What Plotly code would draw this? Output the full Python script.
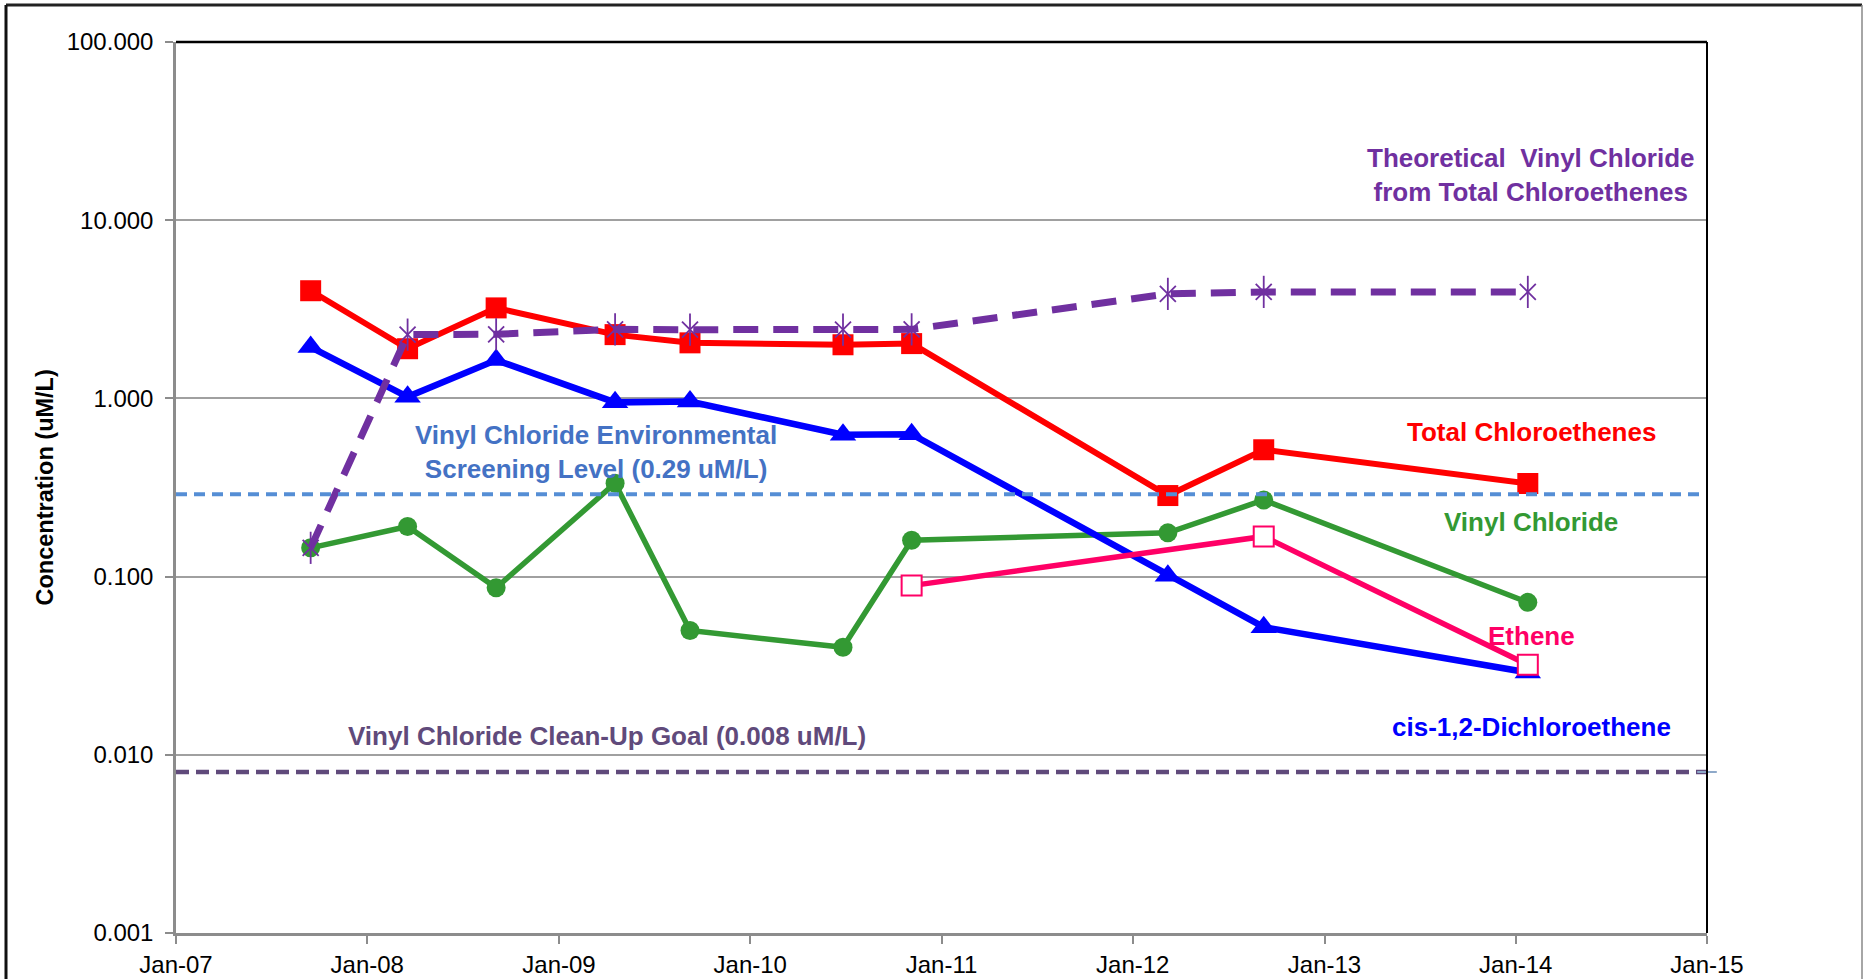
import plotly.graph_objects as go

# Sampling dates (one per monitoring event)
dates = ["2007-09-15", "2008-03-18", "2008-09-03", "2009-04-18", "2009-09-08",
         "2010-06-27", "2010-11-05", "2012-03-08", "2012-09-07", "2014-01-24"]

# Concentrations in uM/L
total_chloroethenes = [4.02, 1.90, 3.22, 2.28, 2.05, 2.00, 2.03, 0.285, 0.515, 0.333]
cis_dce = [1.94, 1.02, 1.64, 0.95, 0.96, 0.625, 0.63, 0.101, 0.052, 0.029]
vinyl_chloride = [0.145, 0.191, 0.0865, 0.334, 0.0498, 0.0401, 0.160, 0.176, 0.269, 0.0717]
theoretical_vc = [0.145, 2.28, 2.29, 2.44, 2.43, 2.43, 2.44, 3.86, 3.96, 3.96]

ethene_dates = ["2010-11-05", "2012-09-07", "2014-01-24"]
ethene = [0.089, 0.168, 0.032]

# Regulatory reference levels
screening_level = 0.29
cleanup_goal = 0.008
ref_dates = ["2007-01-01", "2015-01-01"]

y_ticks = [0.001, 0.01, 0.1, 1, 10, 100]
y_tick_labels = ["0.001", "0.010", "0.100", "1.000", "10.000", "100.000"]

FONT = "Arial, Liberation Sans, sans-serif"
RED, BLUE, GREEN, PINK, PURPLE = "#FF0000", "#0000FF", "#339933", "#FF0066", "#7030A0"
SCREEN_LINE, SCREEN_TEXT, GOAL = "#558ED5", "#4472C4", "#604A7B"

fig = go.Figure()

fig.add_trace(go.Scatter(x=dates, y=vinyl_chloride, mode="lines+markers",
                         line=dict(color=GREEN, width=5.5),
                         marker=dict(symbol="circle", size=19, color=GREEN)))
fig.add_trace(go.Scatter(x=dates, y=cis_dce, mode="lines+markers",
                         line=dict(color=BLUE, width=6.5),
                         marker=dict(symbol="triangle-up", size=23, color=BLUE)))
fig.add_trace(go.Scatter(x=dates, y=total_chloroethenes, mode="lines+markers",
                         line=dict(color=RED, width=6),
                         marker=dict(symbol="square", size=21, color=RED)))
fig.add_trace(go.Scatter(x=ethene_dates, y=ethene, mode="lines+markers",
                         line=dict(color=PINK, width=5.5),
                         marker=dict(symbol="square", size=20, color="white",
                                     line=dict(color=PINK, width=2))))
# Theoretical vinyl chloride: dashed line with star markers (X plus vertical bar)
fig.add_trace(go.Scatter(x=dates, y=theoretical_vc, mode="lines+markers",
                         line=dict(color=PURPLE, width=7, dash="25px,15px"),
                         marker=dict(symbol="x-thin-open", size=16, color=PURPLE,
                                     line=dict(color=PURPLE, width=1.8))))
fig.add_trace(go.Scatter(x=dates, y=theoretical_vc, mode="markers",
                         marker=dict(symbol="line-ns-open", size=23, color=PURPLE,
                                     line=dict(color=PURPLE, width=1.8))))
# Screening level and clean-up goal
fig.add_trace(go.Scatter(x=ref_dates, y=[screening_level] * 2, mode="lines",
                         line=dict(color=SCREEN_LINE, width=4, dash="11px,7px")))
fig.add_trace(go.Scatter(x=ref_dates, y=[cleanup_goal] * 2, mode="lines",
                         line=dict(color=GOAL, width=4.5, dash="13px,7px")))
fig.add_trace(go.Scatter(x=ref_dates[-1:], y=[cleanup_goal], mode="markers",
                         cliponaxis=False,
                         marker=dict(symbol="cross-thin-open", size=14, color="#8EA9C9",
                                     line=dict(color="#8EA9C9", width=2))))

L, R, T, B = 176, 157, 42, 46
W, H = 1864, 979
pw, ph = W - L - R, H - T - B


def px(x):
    return (x - L) / pw


def py(y):
    return (H - B - y) / ph


def label(text, x, y, color, size=26):
    fig.add_annotation(text=text, x=px(x), y=py(y), xref="paper", yref="paper",
                       showarrow=False, xanchor="center", yanchor="middle",
                       align="center",
                       font=dict(family=FONT, size=size, color=color, weight="bold"))


label("Theoretical  Vinyl Chloride<br>from Total Chloroethenes", 1531, 175, PURPLE)
label("Total Chloroethenes", 1531, 432, RED)
label("Vinyl Chloride", 1531, 522, GREEN)
label("Ethene", 1531, 636, PINK)
label("cis-1,2-Dichloroethene", 1531, 727, BLUE)
label("Vinyl Chloride Environmental<br>Screening Level (0.29 uM/L)", 596, 452, SCREEN_TEXT)
label("Vinyl Chloride Clean-Up Goal (0.008 uM/L)", 607, 736, GOAL)

fig.add_annotation(text="Concentration (uM/L)", x=px(44), y=0.5, xref="paper", yref="paper",
                   showarrow=False, textangle=-90, xanchor="center", yanchor="middle",
                   font=dict(family=FONT, size=23.5, color="black", weight="bold"))

# Plot-area top/right borders and outer chart frame
fig.add_shape(type="line", xref="paper", yref="paper", x0=0, x1=1, y0=1, y1=1,
              line=dict(color="black", width=2.5))
fig.add_shape(type="line", xref="paper", yref="paper", x0=1, x1=1, y0=0, y1=1,
              line=dict(color="black", width=2))
fig.add_shape(type="line", xref="paper", yref="paper", x0=px(6), x1=px(1862),
              y0=py(5), y1=py(5), line=dict(color="#222222", width=3))
fig.add_shape(type="line", xref="paper", yref="paper", x0=px(6), x1=px(6),
              y0=py(5), y1=py(990), line=dict(color="#111111", width=3))
fig.add_shape(type="line", xref="paper", yref="paper", x0=px(1862), x1=px(1862),
              y0=py(5), y1=py(990), line=dict(color="#888888", width=1.5))

fig.update_layout(
    width=W, height=H,
    margin=dict(l=L, r=R, t=T, b=B, pad=0, autoexpand=False),
    paper_bgcolor="white", plot_bgcolor="white",
    showlegend=False,
    font=dict(family=FONT, size=24, color="black"),
    xaxis=dict(type="date", range=["2007-01-01", "2015-01-01"], automargin=False,
               tick0="2007-01-01", dtick="M12", tickformat="%b-%y",
               showgrid=False, zeroline=False,
               showline=True, linecolor="#8C8C8C", linewidth=2.5,
               ticks="outside", ticklen=8, tickwidth=2, tickcolor="#8C8C8C",
               tickfont=dict(family=FONT, size=24, color="black")),
    yaxis=dict(type="log", range=[-3, 2], automargin=False,
               tickvals=y_ticks, ticktext=y_tick_labels, ticklabelstandoff=7,
               showgrid=True, gridcolor="#A0A0A0", gridwidth=2, zeroline=False,
               showline=True, linecolor="#8C8C8C", linewidth=2.5,
               ticks="outside", ticklen=8, tickwidth=2, tickcolor="#8C8C8C",
               tickfont=dict(family=FONT, size=24, color="black")),
)

fig.write_html("out.html")
